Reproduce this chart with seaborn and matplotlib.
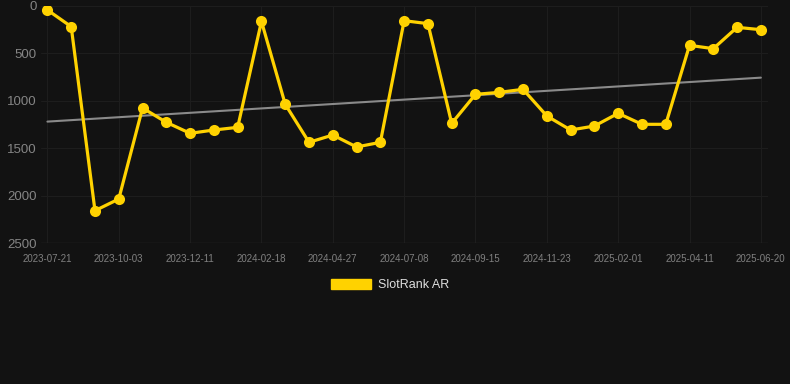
import numpy as np
import pandas as pd
import matplotlib
matplotlib.use("Agg")
import matplotlib.pyplot as plt
from matplotlib.patches import Patch
import seaborn as sns

# ---- data ----
tick_labels = ["2023-07-21", "2023-10-03", "2023-12-11", "2024-02-18", "2024-04-27",
               "2024-07-08", "2024-09-15", "2024-11-23", "2025-02-01", "2025-04-11",
               "2025-06-20"]
rank_values = [42, 218, 2159, 2036, 1076, 1227, 1343, 1308, 1280, 162,
               1037, 1438, 1361, 1487, 1438, 155, 186, 1238, 932, 911,
               879, 1160, 1308, 1266, 1132, 1248, 1248, 415, 450, 225, 250]
series_name = "SlotRank AR"

idx = np.arange(len(rank_values))
df = pd.DataFrame({"idx": idx, "rank": rank_values})
coef = np.polyfit(idx, rank_values, 1)
df["trend"] = np.polyval(coef, idx)

sns.set_theme(style="dark")
plt.rcParams["font.family"] = ["Liberation Sans", "DejaVu Sans"]

bg = "#121212"
gold = "#FFD200"
fig = plt.figure(figsize=(7.9, 3.84), dpi=100, facecolor=bg)
ax = fig.add_axes([41 / 790, 1 - 243 / 384, 727 / 790, 237 / 384])
ax.set_facecolor(bg)

sns.lineplot(data=df, x="idx", y="trend", ax=ax, color="#8a8a8a", linewidth=1.5, legend=False)
sns.lineplot(data=df, x="idx", y="rank", ax=ax, color=gold, linewidth=2.3,
             marker="o", markersize=8, markeredgewidth=0, legend=False)

ax.set_xlim(-0.27, len(rank_values) - 1 + 0.3)
ax.set_ylim(2500, 0)
ax.set_yticks([0, 500, 1000, 1500, 2000, 2500])
ax.set_yticklabels(["0", "500", "1000", "1500", "2000", "2500"])
ax.set_xticks(idx[::3])
ax.set_xticklabels(tick_labels)
ax.tick_params(axis="y", colors="#858585", labelsize=9.5, length=0, pad=3)
ax.tick_params(axis="x", colors="#808080", labelsize=7, length=0, pad=8)
ax.grid(True, color="#1d1d1d", linewidth=0.8)
ax.set_xlabel("")
ax.set_ylabel("")
for s in ax.spines.values():
    s.set_visible(False)
ax.axhline(2500, color="#2a2a2a", linewidth=1)

handle = Patch(facecolor=gold, edgecolor=gold)
fig.legend([handle], [series_name], loc="center", bbox_to_anchor=(390 / 790, 1 - 285 / 384),
           frameon=False, fontsize=9, labelcolor="#dddddd", handlelength=3.2, handleheight=0.9,
           handletextpad=0.5)

fig.savefig("out.png", dpi=100, facecolor=bg)
